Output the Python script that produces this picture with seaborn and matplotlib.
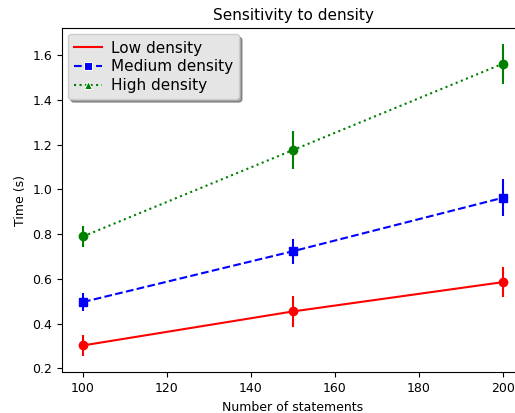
import matplotlib
matplotlib.use("Agg")
import matplotlib.pyplot as plt
import seaborn as sns
import pandas as pd

statements = [100, 150, 200]
low = [0.303, 0.455, 0.586]
low_err = [0.048, 0.07, 0.068]
medium = [0.497, 0.724, 0.963]
medium_err = [0.04, 0.055, 0.082]
high = [0.79, 1.176, 1.562]
high_err = [0.048, 0.085, 0.09]

series = ["Low density", "Medium density", "High density"]
colors = ["red", "blue", "green"]
styles = ["-", "--", ":"]
leg_markers = [None, "s", "^"]
pt_markers = ["o", "s", "o"]
vals = [low, medium, high]
errs = [low_err, medium_err, high_err]

fig = plt.figure(figsize=(5.15, 4.13), dpi=100)
ax = fig.add_axes([62 / 515, (413 - 372.3) / 413, 462 / 515, 344 / 413])

for name, c, ls, lm, pm, v, e in zip(series, colors, styles, leg_markers, pt_markers, vals, errs):
    df = pd.DataFrame({"x": statements, "y": v})
    sns.lineplot(data=df, x="x", y="y", ax=ax, color=c, linestyle=ls,
                 marker=lm, markersize=6, label=name, linewidth=1.5)
    ax.errorbar(statements, v, yerr=e, fmt=pm, color=c, markersize=6, linestyle="none")

ax.set_xlim(95, 205)
ax.set_ylim(0.183, 1.72)
ax.set_xticks([100, 120, 140, 160, 180, 200])
ax.set_yticks([0.2, 0.4, 0.6, 0.8, 1.0, 1.2, 1.4, 1.6])
ax.set_xlabel("Number of statements", fontsize=9)
ax.set_ylabel("Time (s)", fontsize=9)
ax.set_title("Sensitivity to density", fontsize=11)
ax.tick_params(labelsize=9)
leg = ax.legend(loc="upper left", fontsize=11, shadow=True, fancybox=True,
                facecolor="#e5e5e5", framealpha=1.0, edgecolor="#cccccc",
                borderaxespad=0.4, handlelength=1.8, handletextpad=0.6,
                labelspacing=0.25)
fig.savefig("out.png", dpi=100)
